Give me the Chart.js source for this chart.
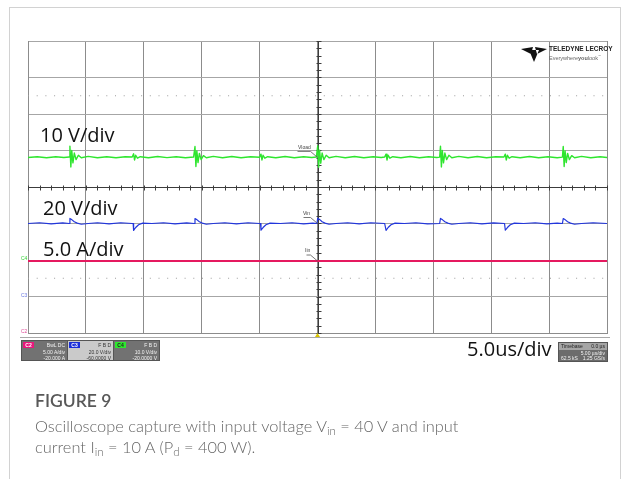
<!DOCTYPE html>
<html>
<head>
<meta charset="utf-8">
<script src="https://cdn.jsdelivr.net/npm/chart.js@4.4.1/dist/chart.umd.min.js"></script>
<style>
  html, body { margin: 0; padding: 0; background: #fff; }
  #page { position: relative; width: 622px; height: 479px; overflow: hidden; }
  #card { position: absolute; left: 9px; top: 7px; width: 610px; height: 480px; border: 1px solid #d2d2d2; border-bottom: none; }
  #scope { position: absolute; left: 0; top: 0; }
  .lbl { position: absolute; font-family: "Open Sans", sans-serif; font-size: 20px; line-height: 20px; color: #111; white-space: nowrap; }
  .tiny { position: absolute; font-family: "Liberation Sans", Arial, sans-serif; font-size: 5px; line-height: 6px; white-space: nowrap; }
  .box { position: absolute; height: 21px; border: 1px solid #555; box-sizing: border-box; }
  .tag { position: absolute; left: 1px; top: 1px; width: 11px; height: 6px; font: bold 5px/6px "Liberation Sans", sans-serif; text-align: center; }
  .row { position: absolute; right: 2px; font: 5px/6px "Liberation Sans", sans-serif; white-space: nowrap; }
  #frameLine { position: absolute; left: 20px; top: 337px; width: 590px; height: 1px; background: #a8a8a8; }
  #figLabel { position: absolute; left: 35px; top: 391px; font: 600 17.5px/20px Lato, sans-serif; color: #585858; }
  #caption { position: absolute; left: 35px; top: 415px; width: 570px; font: 300 16.4px/21px Lato, sans-serif; color: #666; }
  #caption sub { font-size: 0.7em; vertical-align: -0.3em; line-height: 0; }
</style>
</head>
<body>
<div id="page">
  <div id="card"></div>
  <div id="frameLine"></div>
  <canvas id="scope" width="622" height="479"></canvas>

  <div class="lbl" style="left:40px; top:125px">10 V/div</div>
  <div class="lbl" style="left:43px; top:198px">20 V/div</div>
  <div class="lbl" style="left:43px; top:239px">5.0 A/div</div>
  <div class="lbl" style="left:467px; top:339px">5.0us/div</div>

  <div class="tiny" style="left:298px; top:144px; color:#444">Vload</div>
  <div class="tiny" style="left:303px; top:210px; color:#444">Vin</div>
  <div class="tiny" style="left:305px; top:247px; color:#444">Iin</div>

  <div class="tiny" style="left:21px; top:255px; color:#35d235">C4</div>
  <div class="tiny" style="left:21px; top:292px; color:#6a78e0">C3</div>
  <div class="tiny" style="left:21px; top:328px; color:#e0509a">C2</div>

  <div class="box" style="left:21px; top:340px; width:47px; background:#727272; color:#f2f2f2">
    <div class="tag" style="background:#e8187c; color:#fff">C2</div>
    <div class="row" style="top:1px">BwL DC</div>
    <div class="row" style="top:8px">5.00 A/div</div>
    <div class="row" style="top:14px">-20.000 A</div>
  </div>
  <div class="box" style="left:67px; top:340px; width:47px; background:#cacaca; color:#333">
    <div class="tag" style="background:#1a2fd8; color:#fff">C3</div>
    <div class="row" style="top:1px">F B D</div>
    <div class="row" style="top:8px">20.0 V/div</div>
    <div class="row" style="top:14px">-60.0000 V</div>
  </div>
  <div class="box" style="left:113px; top:340px; width:47px; background:#727272; color:#f2f2f2">
    <div class="tag" style="background:#2ee82e; color:#222">C4</div>
    <div class="row" style="top:1px">F B D</div>
    <div class="row" style="top:8px">10.0 V/div</div>
    <div class="row" style="top:14px">-20.0000 V</div>
  </div>
  <div class="box" style="left:558px; top:342px; width:50px; height:20px; background:#6c6c6c; color:#f2f2f2">
    <div style="position:absolute; left:0; top:0; width:48px; height:7px; background:#a5a5a5"></div>
    <div class="row" style="left:2px; top:0; color:#222">Timebase</div>
    <div class="row" style="top:0; color:#222">0.0 µs</div>
    <div class="row" style="top:7px">5.00 µs/div</div>
    <div class="row" style="left:2px; top:12px">62.5 kS</div>
    <div class="row" style="top:12px">1.25 GS/s</div>
  </div>

  <div class="tiny" style="left:549px; top:46px; font-size:6.5px; font-weight:bold; color:#222">TELEDYNE LECROY</div>
  <div class="tiny" style="left:549px; top:53px; font-size:5.5px; color:#666">Everywhere<b>you</b>look<sup style="font-size:3px">™</sup></div>

  <div id="figLabel">FIGURE 9</div>
  <div id="caption">Oscilloscope capture with input voltage V<sub>in</sub> = 40 V and input<br>current I<sub>in</sub> = 10 A (P<sub>d</sub> = 400 W).</div>
</div>

<script>
// time axis: 5 us/div, 10 divisions, trigger at centre
const timeMin = -25;
const timeMax = 25;
const timePerDiv = 5;

// channel settings as shown on the scope (units per div, offset)
const channelNames = ["Vload", "Vin", "Iin"];
const channelScales = [10, 20, 5];
const channelOffsets = [-20, -60, -20];
const channelColors = ["#2ee52e", "#2236dc", "#e5195f"];

// Vload (C4), us / V
const vloadTime = [
  -25, -24.2, -23.4, -22.6, -21.9, -21.45, -21.38, -21.3, -21.22, -21.12, -21.0, -20.85, -20.65, -20.4,
  -19.8, -19.0, -18.2, -17.4, -16.6, -16.0, -15.88, -15.8, -15.7, -15.55, -15.3, -14.6, -13.8, -13.0,
  -12.2, -11.4, -10.7, -10.58, -10.5, -10.42, -10.32, -10.2, -10.05, -9.85, -9.6, -9.0, -8.2, -7.4,
  -6.6, -5.8, -5.0, -4.88, -4.8, -4.7, -4.55, -4.3, -3.6, -2.8, -2.0, -1.2, -0.5, -0.1,
  0.02, 0.1, 0.18, 0.28, 0.4, 0.55, 0.75, 1.0, 1.6, 2.4, 3.2, 4.0, 4.8, 5.5, 5.8,
  5.92, 6.0, 6.1, 6.25, 6.5, 7.2, 8.0, 8.8, 9.6, 10.3, 10.55,
  10.62, 10.7, 10.78, 10.88, 11.0, 11.15, 11.35, 11.6, 12.2, 13.0, 13.8, 14.6, 15.4, 16.1,
  16.22, 16.3, 16.4, 16.55, 16.8, 17.5, 18.3, 19.1, 19.9, 20.7, 21.15,
  21.22, 21.3, 21.38, 21.48, 21.6, 21.75, 21.95, 22.2, 22.8, 23.6, 24.4, 25
];
const vloadVolts = [
  28.1, 28.3, 28.0, 28.3, 28.1, 28.2, 31.2, 25.5, 30.0, 26.6, 29.3, 27.5, 28.7, 28.0,
  28.4, 28.0, 28.3, 28.0, 28.3, 28.2, 29.1, 27.4, 28.7, 27.9, 28.3, 28.0, 28.35, 28.05,
  28.3, 28.0, 28.2, 31.1, 25.6, 29.9, 26.7, 29.2, 27.5, 28.6, 28.0, 28.4, 28.0, 28.35,
  28.0, 28.3, 28.15, 29.0, 27.4, 28.7, 27.9, 28.3, 28.0, 28.35, 28.0, 28.3, 28.1, 28.2,
  31.3, 25.4, 30.1, 26.5, 29.3, 27.5, 28.7, 28.0, 28.4, 28.0, 28.35, 28.0, 28.3, 28.1, 28.2,
  29.0, 27.4, 28.7, 27.9, 28.3, 28.0, 28.35, 28.0, 28.3, 28.1, 28.2,
  31.2, 25.5, 30.0, 26.6, 29.3, 27.5, 28.7, 28.0, 28.4, 28.0, 28.35, 28.0, 28.3, 28.2,
  29.0, 27.4, 28.7, 27.9, 28.3, 28.0, 28.35, 28.0, 28.3, 28.0, 28.2,
  31.1, 25.6, 29.9, 26.7, 29.2, 27.5, 28.6, 28.0, 28.4, 28.0, 28.3, 28.1
];

// Vin (C3), us / V
const vinTime = [
  -25, -24, -23, -22, -21.45, -21.38, -21.2, -21.0, -20.75, -20.4, -19.8, -19.0, -18.0, -17.0, -16.0,
  -15.92, -15.88, -15.7, -15.45, -15.1, -14.3, -13.3, -12.3, -11.3, -10.65,
  -10.58, -10.4, -10.2, -9.95, -9.6, -9.0, -8.0, -7.0, -6.0, -5.0,
  -4.92, -4.88, -4.7, -4.45, -4.1, -3.2, -2.2, -1.2, -0.4, -0.05,
  0.02, 0.2, 0.4, 0.65, 1.0, 1.6, 2.6, 3.6, 4.6, 5.8,
  5.92, 6.1, 6.35, 6.7, 7.5, 8.5, 9.5, 10.55,
  10.62, 10.8, 11.0, 11.25, 11.6, 12.2, 13.2, 14.2, 15.2, 16.15,
  16.22, 16.4, 16.65, 17.0, 17.8, 18.8, 19.8, 20.7, 21.15,
  21.22, 21.4, 21.6, 21.85, 22.2, 22.8, 23.8, 25
];
const vinVolts = [
  40.0, 40.4, 39.8, 40.3, 40.0, 42.8, 42.0, 41.0, 40.2, 39.6, 40.0, 40.4, 39.8, 40.4, 40.0,
  40.0, 36.2, 37.8, 39.3, 40.2, 40.0, 40.4, 39.8, 40.3, 40.0,
  42.7, 42.0, 41.0, 40.2, 39.6, 40.0, 40.4, 39.8, 40.4, 40.0,
  40.0, 36.3, 37.8, 39.3, 40.2, 40.0, 40.4, 39.8, 40.2, 40.0,
  42.9, 42.1, 41.0, 40.2, 39.6, 40.0, 40.4, 39.8, 40.4, 40.0,
  36.2, 37.8, 39.3, 40.2, 40.0, 40.4, 39.8, 40.0,
  42.8, 42.0, 41.0, 40.2, 39.6, 40.0, 40.4, 39.8, 40.3, 40.0,
  36.3, 37.8, 39.3, 40.2, 40.0, 40.4, 39.8, 40.2, 40.0,
  42.7, 42.0, 41.0, 40.2, 39.6, 40.0, 40.4, 40.0
];

// Iin (C2), us / A
const iinTime = [-25, -12.5, 0, 12.5, 25];
const iinAmps = [9.86, 9.87, 9.86, 9.86, 9.87];

// dotted reference rows, in divisions
const dotRowLevels = [2.5, -2.5];

function pairs(xs, ys) {
  return xs.map((x, i) => ({ x: x, y: ys[i] }));
}

function channelAxis(i) {
  const centre = -channelOffsets[i];
  return {
    type: "linear",
    display: false,
    min: centre - 4 * channelScales[i],
    max: centre + 4 * channelScales[i],
  };
}

// centre crosshair with minor ticks, trace markers, logo, trigger mark
const scopeDecor = {
  id: "scopeDecor",
  beforeDatasetsDraw(chart) {
    const { ctx, chartArea, scales } = chart;
    const x = scales.x, d = scales.div;
    const cx = Math.round(x.getPixelForValue(0)) + 0.5;
    const cy = Math.round(d.getPixelForValue(0)) + 0.5;
    ctx.save();
    ctx.strokeStyle = "#3c3c3c";
    ctx.lineWidth = 1;
    ctx.beginPath();
    ctx.moveTo(chartArea.left, cy);
    ctx.lineTo(chartArea.right, cy);
    ctx.moveTo(cx, chartArea.top);
    ctx.lineTo(cx, chartArea.bottom);
    for (let t = timeMin; t <= timeMax; t += timePerDiv / 5) {
      const px = Math.round(x.getPixelForValue(t)) + 0.5;
      ctx.moveTo(px, cy - 2);
      ctx.lineTo(px, cy + 3);
    }
    for (let v = -4; v <= 4.001; v += 0.2) {
      const py = Math.round(d.getPixelForValue(v)) + 0.5;
      ctx.moveTo(cx - 2, py);
      ctx.lineTo(cx + 3, py);
    }
    ctx.stroke();
    ctx.restore();
  },
  afterDatasetsDraw(chart) {
    const { ctx, chartArea, scales } = chart;
    const cx = scales.x.getPixelForValue(0);
    ctx.save();
    ctx.strokeStyle = "#555";
    ctx.lineWidth = 0.8;
    const levels = [vloadVolts[0], vinVolts[0], iinAmps[0]];
    const axes = ["yVload", "yVin", "yIin"];
    const starts = [-20, -14, -11];
    levels.forEach((v, i) => {
      const py = scales[axes[i]].getPixelForValue(v);
      ctx.beginPath();
      ctx.moveTo(cx + starts[i], py - 6);
      ctx.lineTo(cx - 7, py - 6);
      ctx.lineTo(cx, py);
      ctx.stroke();
    });
    // trigger marker
    ctx.fillStyle = "#d8c400";
    ctx.beginPath();
    ctx.moveTo(cx - 2.5, chartArea.bottom + 4);
    ctx.lineTo(cx + 2.5, chartArea.bottom + 4);
    ctx.lineTo(cx, chartArea.bottom);
    ctx.fill();
    // logo glyph
    ctx.fillStyle = "#111";
    ctx.beginPath();
    ctx.moveTo(521, 49); ctx.lineTo(533, 47); ctx.lineTo(531, 54); ctx.closePath();
    ctx.moveTo(547, 49); ctx.lineTo(535, 47); ctx.lineTo(537, 54); ctx.closePath();
    ctx.moveTo(529, 50); ctx.lineTo(539, 50); ctx.lineTo(534, 62); ctx.closePath();
    ctx.fill();
    ctx.restore();
  },
};

const datasets = [
  {
    label: "Iin",
    data: pairs(iinTime, iinAmps),
    yAxisID: "yIin",
    borderColor: channelColors[2],
    borderWidth: 2,
    order: 3,
  },
  {
    label: "Vin",
    data: pairs(vinTime, vinVolts),
    yAxisID: "yVin",
    borderColor: channelColors[1],
    borderWidth: 1.2,
    order: 2,
  },
  {
    label: "Vload",
    data: pairs(vloadTime, vloadVolts),
    yAxisID: "yVload",
    borderColor: channelColors[0],
    borderWidth: 1.4,
    order: 1,
  },
];

dotRowLevels.forEach((lvl) => {
  datasets.push({
    label: "dots",
    data: [{ x: timeMin, y: lvl }, { x: timeMax, y: lvl }],
    yAxisID: "div",
    borderColor: "#9c9c9c",
    borderWidth: 1,
    borderDash: [1, 7.7],
    order: 4,
  });
});

new Chart(document.getElementById("scope"), {
  type: "line",
  data: { datasets },
  options: {
    responsive: false,
    animation: false,
    layout: { padding: { left: 28, top: 41, right: 15, bottom: 146 } },
    elements: { point: { radius: 0 }, line: { tension: 0, borderJoinStyle: "round" } },
    plugins: { legend: { display: false }, tooltip: { enabled: false } },
    scales: {
      x: {
        type: "linear",
        min: timeMin,
        max: timeMax,
        ticks: { display: false, stepSize: timePerDiv },
        grid: { color: "#8c8c8c", drawTicks: false, tickLength: 0 },
        border: { color: "#8c8c8c" },
      },
      div: {
        type: "linear",
        position: "left",
        min: -4,
        max: 4,
        ticks: { display: false, stepSize: 1 },
        grid: { color: "#a6a6a6", drawTicks: false, tickLength: 0 },
        border: { color: "#8c8c8c" },
      },
      yVload: channelAxis(0),
      yVin: channelAxis(1),
      yIin: channelAxis(2),
    },
  },
  plugins: [scopeDecor],
});
</script>
</body>
</html>
